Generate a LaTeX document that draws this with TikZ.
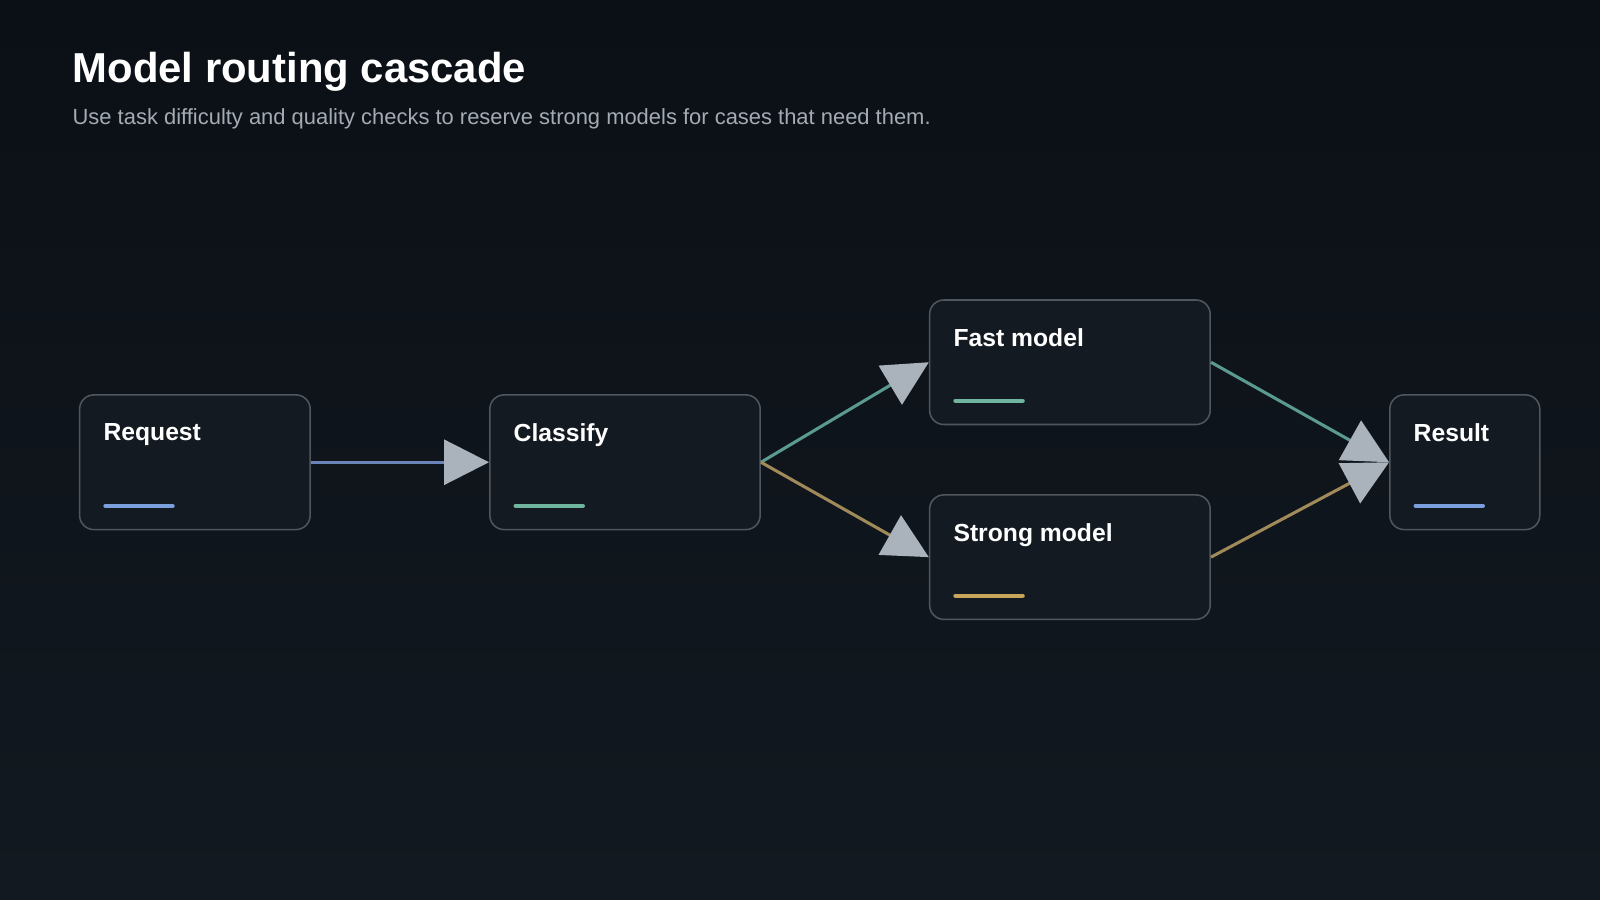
\documentclass[tikz,border=0pt]{standalone}
\usepackage{fontspec}
\setmainfont{Liberation Sans}
\usetikzlibrary{arrows.meta, positioning, calc}

\definecolor{bgdark}{HTML}{0B1016}
\definecolor{bglight}{HTML}{121920}
\definecolor{boxfill}{HTML}{141A21}
\definecolor{boxline}{HTML}{50565E}
\definecolor{tipgray}{HTML}{AAB2BC}
\definecolor{subgray}{HTML}{A4ABB4}
\definecolor{accblue}{HTML}{7B9FDC}
\definecolor{accteal}{HTML}{6FB5A0}
\definecolor{accgold}{HTML}{C9A45C}
\definecolor{lineblue}{HTML}{6A84BA}
\definecolor{lineteal}{HTML}{5A9A90}
\definecolor{linegold}{HTML}{A08A5A}

\tikzset{
  box/.style={draw=boxline, fill=boxfill, line width=1.5pt, rounded corners=14pt,
    minimum height=#1, inner sep=0pt},
  label/.style={anchor=north west, text=white, font=\bfseries\fontsize{24.2}{28}\selectfont,
    inner sep=0pt},
  accent/.style={line width=4pt, line cap=round},
  flow/.style={line width=3pt, -{Triangle[length=44pt,width=44pt,color=tipgray]}}
}

\begin{document}
\begin{tikzpicture}[x=1pt, y=-1pt]
  \shade[top color=bgdark, bottom color=bglight] (0,0) rectangle (1568,882);
  \useasboundingbox (0,0) rectangle (1568,882);

  % title
  \node[anchor=west, text=white, font=\bfseries\fontsize{41}{47}\selectfont, inner sep=0pt]
    (title) at (71,70) {Model routing cascade};
  \node[anchor=west, text=subgray, font=\fontsize{21.5}{25}\selectfont, inner sep=0pt]
    (sub) at (71,116) {Use task difficulty and quality checks to reserve strong models for cases that need them.};

  % boxes
  \node[box=132pt, minimum width=226pt] (req) at (191,453) {};
  \node[box=132pt, minimum width=265pt] (cls) at (612.5,453) {};
  \node[box=122pt, minimum width=275pt] (fast) at (1048.5,355) {};
  \node[box=122pt, minimum width=275pt] (strong) at (1048.5,546) {};
  \node[box=132pt, minimum width=147pt] (res) at (1435.5,453) {};

  % labels
  \node[label] at ($(req.north west)+(24,29)$) {Request};
  \node[label] at ($(cls.north west)+(24,29)$) {Classify};
  \node[label] at ($(fast.north west)+(24,29)$) {Fast model};
  \node[label] at ($(strong.north west)+(24,29)$) {Strong model};
  \node[label] at ($(res.north west)+(24,29)$) {Result};

  % accent bars
  \draw[accent, accblue] ($(req.south west)+(26,-24)$) -- ++(66,0);
  \draw[accent, accteal] ($(cls.south west)+(26,-24)$) -- ++(66,0);
  \draw[accent, accteal] ($(fast.south west)+(26,-24)$) -- ++(66,0);
  \draw[accent, accgold] ($(strong.south west)+(26,-24)$) -- ++(66,0);
  \draw[accent, accblue] ($(res.south west)+(26,-24)$) -- ++(66,0);

  % connectors
  \draw[flow, lineblue] (req.east) -- (cls.west);
  \draw[flow, lineteal] (cls.east) -- (fast.west);
  \draw[flow, linegold] (cls.east) -- (strong.west);
  \draw[flow, lineteal] (fast.east) -- (res.west);
  \draw[flow, linegold] (strong.east) -- (res.west);
\end{tikzpicture}
\end{document}
